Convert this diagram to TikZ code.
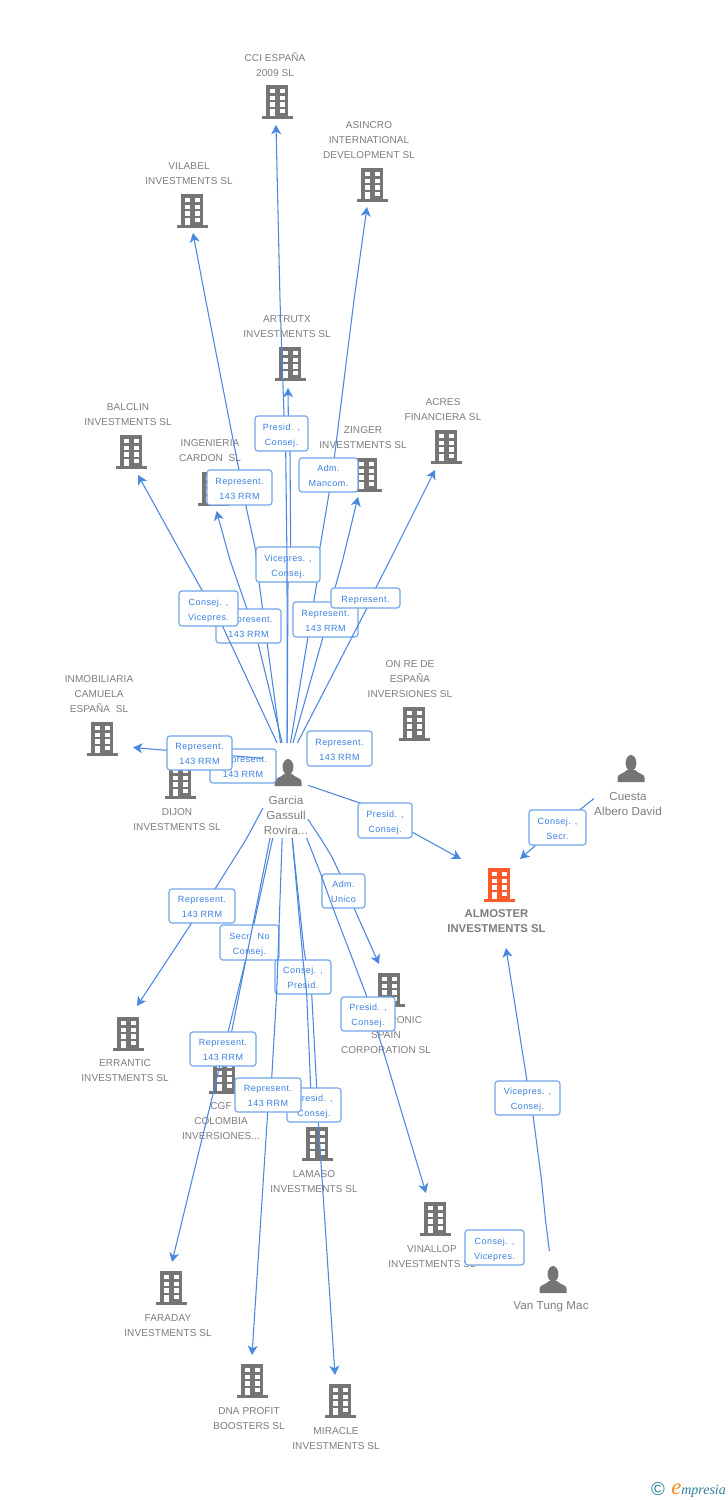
\documentclass[tikz,border=0pt]{standalone}
\usepackage{fontspec}
\setmainfont{Liberation Sans}
\newfontfamily\lab[LetterSpace=5]{Liberation Sans}
\newfontfamily\capt[LetterSpace=1]{Liberation Sans}
\newfontfamily\logofont{Liberation Serif}
\usetikzlibrary{arrows.meta}
\definecolor{iconc}{HTML}{757575}
\definecolor{txtc}{HTML}{7C7C7C}
\definecolor{linec}{HTML}{4A88E0}
\definecolor{boxc}{HTML}{6FA5E8}
\definecolor{labc}{HTML}{3A80E0}
\definecolor{mainc}{HTML}{FF5A2C}
\definecolor{logot}{HTML}{2F7F9F}
\definecolor{logoo}{HTML}{F58A1F}
\tikzset{
  x=0.75pt,y=-0.75pt,
  conn/.style={draw=linec,line width=0.8pt,line join=round,-{Stealth[length=7pt,width=7.5pt,inset=2pt]}},
  lbox/.style={draw=boxc,fill=white,line width=0.85pt,rounded corners=2.2pt,inner sep=0pt,align=center,text=labc,
    font=\lab\fontsize{6.75}{11.25}\selectfont},
  captxt/.style={inner sep=0pt,align=center,text=txtc,yshift=-0.6pt,font=\capt\fontsize{7.5}{11.25}\selectfont},
  perstxt/.style={inner sep=0pt,align=center,text=txtc,font=\capt\fontsize{8.7}{11.25}\selectfont},
  maintxt/.style={inner sep=0pt,align=center,text=txtc,font=\bfseries\fontsize{8.5}{11.25}\selectfont},
  iconbox/.style={inner sep=0pt,outer sep=0pt,minimum width=23.25pt,minimum height=25.5pt},
  bldg/.pic={
    \path[pic actions] (-11,0) rectangle (11,31);
    \path[pic actions] (-15.5,31) rectangle (15.5,34);
    \foreach \yy in {4,10.7,17.3}{
      \fill[white] (-7.3,\yy) rectangle (-2.3,\yy+4.4);
      \fill[white] (2.7,\yy) rectangle (7.7,\yy+4.4);
    }
    \fill[white] (-7.3,24) rectangle (-2.3,31);
    \fill[white] (2.7,23.7) rectangle (7.7,28);
  },
  persn/.pic={
    \fill[iconc] (0,8) ellipse [x radius=5.4,y radius=8];
    \fill[iconc] (-13.5,27) -- (-13.5,22.5) .. controls (-13.5,19) and (-7,18.5) .. (-4,15)
      -- (4,15) .. controls (7,18.5) and (13.5,19) .. (13.5,22.5) -- (13.5,27) -- cycle;
  }
}
% name, centre x, top y, arrow-end x, arrow-end y
\newcommand{\bld}[5]{%
  \pic[fill=iconc] at (#2,#3) {bldg};
  \node[iconbox] (#1) at (#2,#3+17) {};
  \coordinate (#1-in) at (#4,#5);
}
\newcommand{\capn}[4]{\node[captxt] (#1-t) at (#2,#3) {#4};}
\newcommand{\lbl}[6]{\node[lbox,minimum width=#4*0.75pt,minimum height=#5*0.75pt] (#1) at (#2,#3) {\rule{0pt}{8pt}#6\rule[-1.5pt]{0pt}{1.5pt}};}
\begin{document}
\begin{tikzpicture}
\useasboundingbox (0,0) rectangle (728,1500);
% ---------- icons
\bld{cci}{277}{85}{276}{125}
\bld{asincro}{372}{168}{367}{207}
\bld{vilabel}{192}{194}{193}{233}
\bld{artrutx}{290}{347}{288}{388}
\bld{balclin}{131}{435}{138}{475}
\bld{ingenieria}{213}{472}{216.5}{511}
\bld{zinger}{366}{458}{358}{497}
\bld{acres}{446}{430}{435}{470}
\bld{inmob}{102}{722}{133}{747.5}
\bld{onre}{414}{707}{414}{745}
\bld{dijon}{180}{765}{180}{760}
\bld{errantic}{128}{1017}{137}{1006}
\bld{cgf}{224}{1060}{226}{1060}
\bld{lamaso}{317}{1127}{313}{1116}
\bld{electronic}{389}{973}{379}{964}
\bld{vinallop}{435}{1202}{426}{1193}
\bld{faraday}{171}{1271}{172}{1262}
\bld{dna}{252}{1364}{252}{1355}
\bld{miracle}{340}{1384}{335}{1375}
\pic[fill=mainc] at (499,868) {bldg};
\node[iconbox] (almoster) at (499,885) {};
\coordinate (almoster-in) at (461,859);
\coordinate (almoster-in2) at (520,859);
\coordinate (almoster-in3) at (506,948);
% ---------- persons
\pic at (288,759) {persn};
\node[inner sep=0pt,outer sep=0pt,minimum width=33.75pt,minimum height=71.25pt] (garcia) at (285.5,790.5) {};
\pic at (631,755) {persn};
\node[inner sep=0pt,outer sep=0pt,minimum width=51pt,minimum height=30pt] (cuesta) at (628,790) {};
\pic at (553,1266) {persn};
\node[inner sep=0pt,outer sep=0pt,minimum width=30pt,minimum height=51pt] (vantung) at (553,1285) {};
% ---------- captions
\capn{cci}{275}{63.5}{CCI ESPAÑA\\2009 SL}
\capn{asincro}{369}{139}{ASINCRO\\INTERNATIONAL\\DEVELOPMENT SL}
\capn{vilabel}{189}{172.5}{VILABEL\\INVESTMENTS SL}
\capn{artrutx}{287}{325.5}{ARTRUTX\\INVESTMENTS SL}
\capn{balclin}{128}{413.5}{BALCLIN\\INVESTMENTS SL}
\capn{ingenieria}{210}{449.5}{INGENIERIA\\CARDON\ \ SL}
\capn{zinger}{363}{436.5}{ZINGER\\INVESTMENTS SL}
\capn{acres}{443}{408.5}{ACRES\\FINANCIERA SL}
\capn{inmob}{99}{693}{INMOBILIARIA\\CAMUELA\\ESPAÑA\ \ SL}
\capn{onre}{410}{678}{ON RE DE\\ESPAÑA\\INVERSIONES SL}
\capn{dijon}{177}{818.5}{DIJON\\INVESTMENTS SL}
\capn{errantic}{125}{1069.5}{ERRANTIC\\INVESTMENTS SL}
\capn{cgf}{221}{1120}{CGF\\COLOMBIA\\INVERSIONES...}
\capn{electronic}{386}{1034}{SELECTRONIC\\SPAIN\\CORPORATION SL}
\capn{lamaso}{314}{1180.5}{LAMASO\\INVESTMENTS SL}
\capn{vinallop}{432}{1255.5}{VINALLOP\\INVESTMENTS SL}
\capn{faraday}{168}{1324.5}{FARADAY\\INVESTMENTS SL}
\capn{dna}{249}{1417.5}{DNA PROFIT\\BOOSTERS SL}
\capn{miracle}{336}{1437.5}{MIRACLE\\INVESTMENTS SL}
\node[maintxt] (almoster-t) at (496.5,921) {ALMOSTER\\INVESTMENTS SL};
\node[perstxt] (garcia-t) at (286,815) {Garcia\\Gassull\\Rovira...};
\node[perstxt] (cuesta-t) at (628,804) {Cuesta\\Albero David};
\node[perstxt] (vantung-t) at (551,1307) {Van Tung Mac};
% ---------- connectors and their labels, in stacking order
\lbl{lOnre}{339.5}{748.5}{65}{35}{Represent.\\143 RRM}
\lbl{lDij}{243}{766}{66}{34}{Represent.\\143 RRM}
\draw[conn] (garcia.125.5) -- (199,753) -- (inmob-in);
\lbl{lInm}{199.5}{753}{65}{34}{Represent.\\143 RRM}
\draw[conn] (garcia.-142.1) -- (245.7,840) -- (215,889) -- (191.7,923) -- (errantic-in);
\lbl{lErr}{202}{906}{66}{34}{Represent.\\143 RRM}
\draw[conn] (garcia.-52.7) -- (321.7,840) -- (332,857) -- (340,874) -- (354,908) -- (electronic-in);
\lbl{lEle}{343.5}{891}{43}{34}{Adm.\\Unico}
\draw[conn] (garcia.-66.7) -- (320,872) -- (333,908) -- (367,997) -- (380,1040) -- (410,1140) -- (vinallop-in);
\lbl{lVin}{368}{1014}{54}{34}{Presid. ,\\Consej.}
\draw[conn] (garcia.-105.9) -- (250,942) -- (faraday-in);
\lbl{lFar}{249.5}{942.5}{59}{35}{Secr.\ \ No\\Consej.}
\draw[conn] (garcia.-82.2) -- (304,950) -- (311.7,994) -- (316.7,1088) -- (318.3,1122) -- (miracle-in);
\lbl{lMir}{303}{977}{56}{34}{Consej. ,\\Presid.}
\draw[conn] (garcia.-82.2) -- (303,960) -- (306.7,994) -- (310.7,1088) -- (lamaso-in);
\lbl{lLam}{314}{1105}{54}{34}{Presid. ,\\Consej.}
\draw[conn] (garcia.-94.2) -- (276.7,993) -- (271.7,1078) -- (267.7,1112) -- (dna-in);
\lbl{lDna}{268}{1095}{66}{34}{Represent.\\143 RRM}
\draw[conn] (garcia.-108.1) -- (cgf-in);
\lbl{lCgf}{223}{1049}{66}{34}{Represent.\\143 RRM}
\draw[conn] (garcia.96.6) -- (259,582) -- (255,547) -- (245.7,505) -- (239,470) -- (205.7,300) -- (vilabel-in);
\lbl{lVil}{239.5}{487.5}{65}{35}{Represent.\\143 RRM}
\draw[conn] (garcia.84.6) -- (317,582) -- (320,547) -- (329.3,492) -- (334.3,458) -- (354,300) -- (asincro-in);
\lbl{lAsin}{328.5}{475}{59}{34}{Adm.\\Mancom.}
\draw[conn] (garcia.88.2) -- (288,582) -- (290.7,547) -- (290,451) -- (288.3,415) -- (artrutx-in);
\lbl{lArt}{288}{564.5}{64}{35}{Vicepres. ,\\Consej.}
\draw[conn] (garcia.88.2) -- (287,560) -- (285.7,451) -- (284,415) -- (280,300) -- (cci-in);
\lbl{lCCI}{281.5}{433.5}{53}{35}{Presid. ,\\Consej.}
\draw[conn] (garcia.81) -- (323,637) -- (335,588) -- (342.7,560) -- (zinger-in);
\lbl{lZin}{325.5}{619.5}{65}{35}{Represent.\\143 RRM}
\draw[conn] (garcia.94.2) -- (258,643) -- (246.7,608) -- (230,560) -- (ingenieria-in);
\lbl{lIng}{248.5}{626}{65}{34}{Represent.\\143 RRM}
\draw[conn] (garcia.100.1) -- (222,625) -- (203,592) -- (185,560) -- (balclin-in);
\lbl{lBal}{208.5}{608.5}{59}{35}{Consej. ,\\Vicepres.}
\draw[conn] (garcia.76.4) -- (367,608) -- (375.7,588) -- (390,560) -- (acres-in);
\lbl{lAcr}{365.5}{598}{69}{20}{Represent.}
\draw[conn] (garcia.13.7) -- (360,803) -- (412,832) -- (almoster-in);
\lbl{lAlm}{385}{820.5}{54}{35}{Presid. ,\\Consej.}
\draw[conn] (cuesta.194.8) -- (536,845) -- (almoster-in2);
\lbl{lCue}{557.5}{827.5}{57}{35}{Consej. ,\\Secr.}
\draw[conn] (vantung.96.7) -- (545.5,1220) -- (541.5,1180) -- (533,1115) -- (527,1081) -- (almoster-in3);
\lbl{lVan}{527.5}{1098}{65}{34}{Vicepres. ,\\Consej.}
\lbl{lVv}{494.5}{1247.5}{59}{35}{Consej. ,\\Vicepres.}
% ---------- logo
\node[inner sep=0pt,text=logot,font=\fontsize{14}{14}\selectfont] (copy) at (658,1489) {©};
\node[inner sep=0pt,anchor=base west] (logoe) at (671,1494) {\logofont\itshape\fontsize{17}{17}\selectfont\color{logoo}e};
\node[inner sep=0pt,anchor=base west,text=logot] (logom) at (681,1494) {\logofont\itshape\fontsize{10.5}{11}\selectfont mpresia};
\end{tikzpicture}
\end{document}
